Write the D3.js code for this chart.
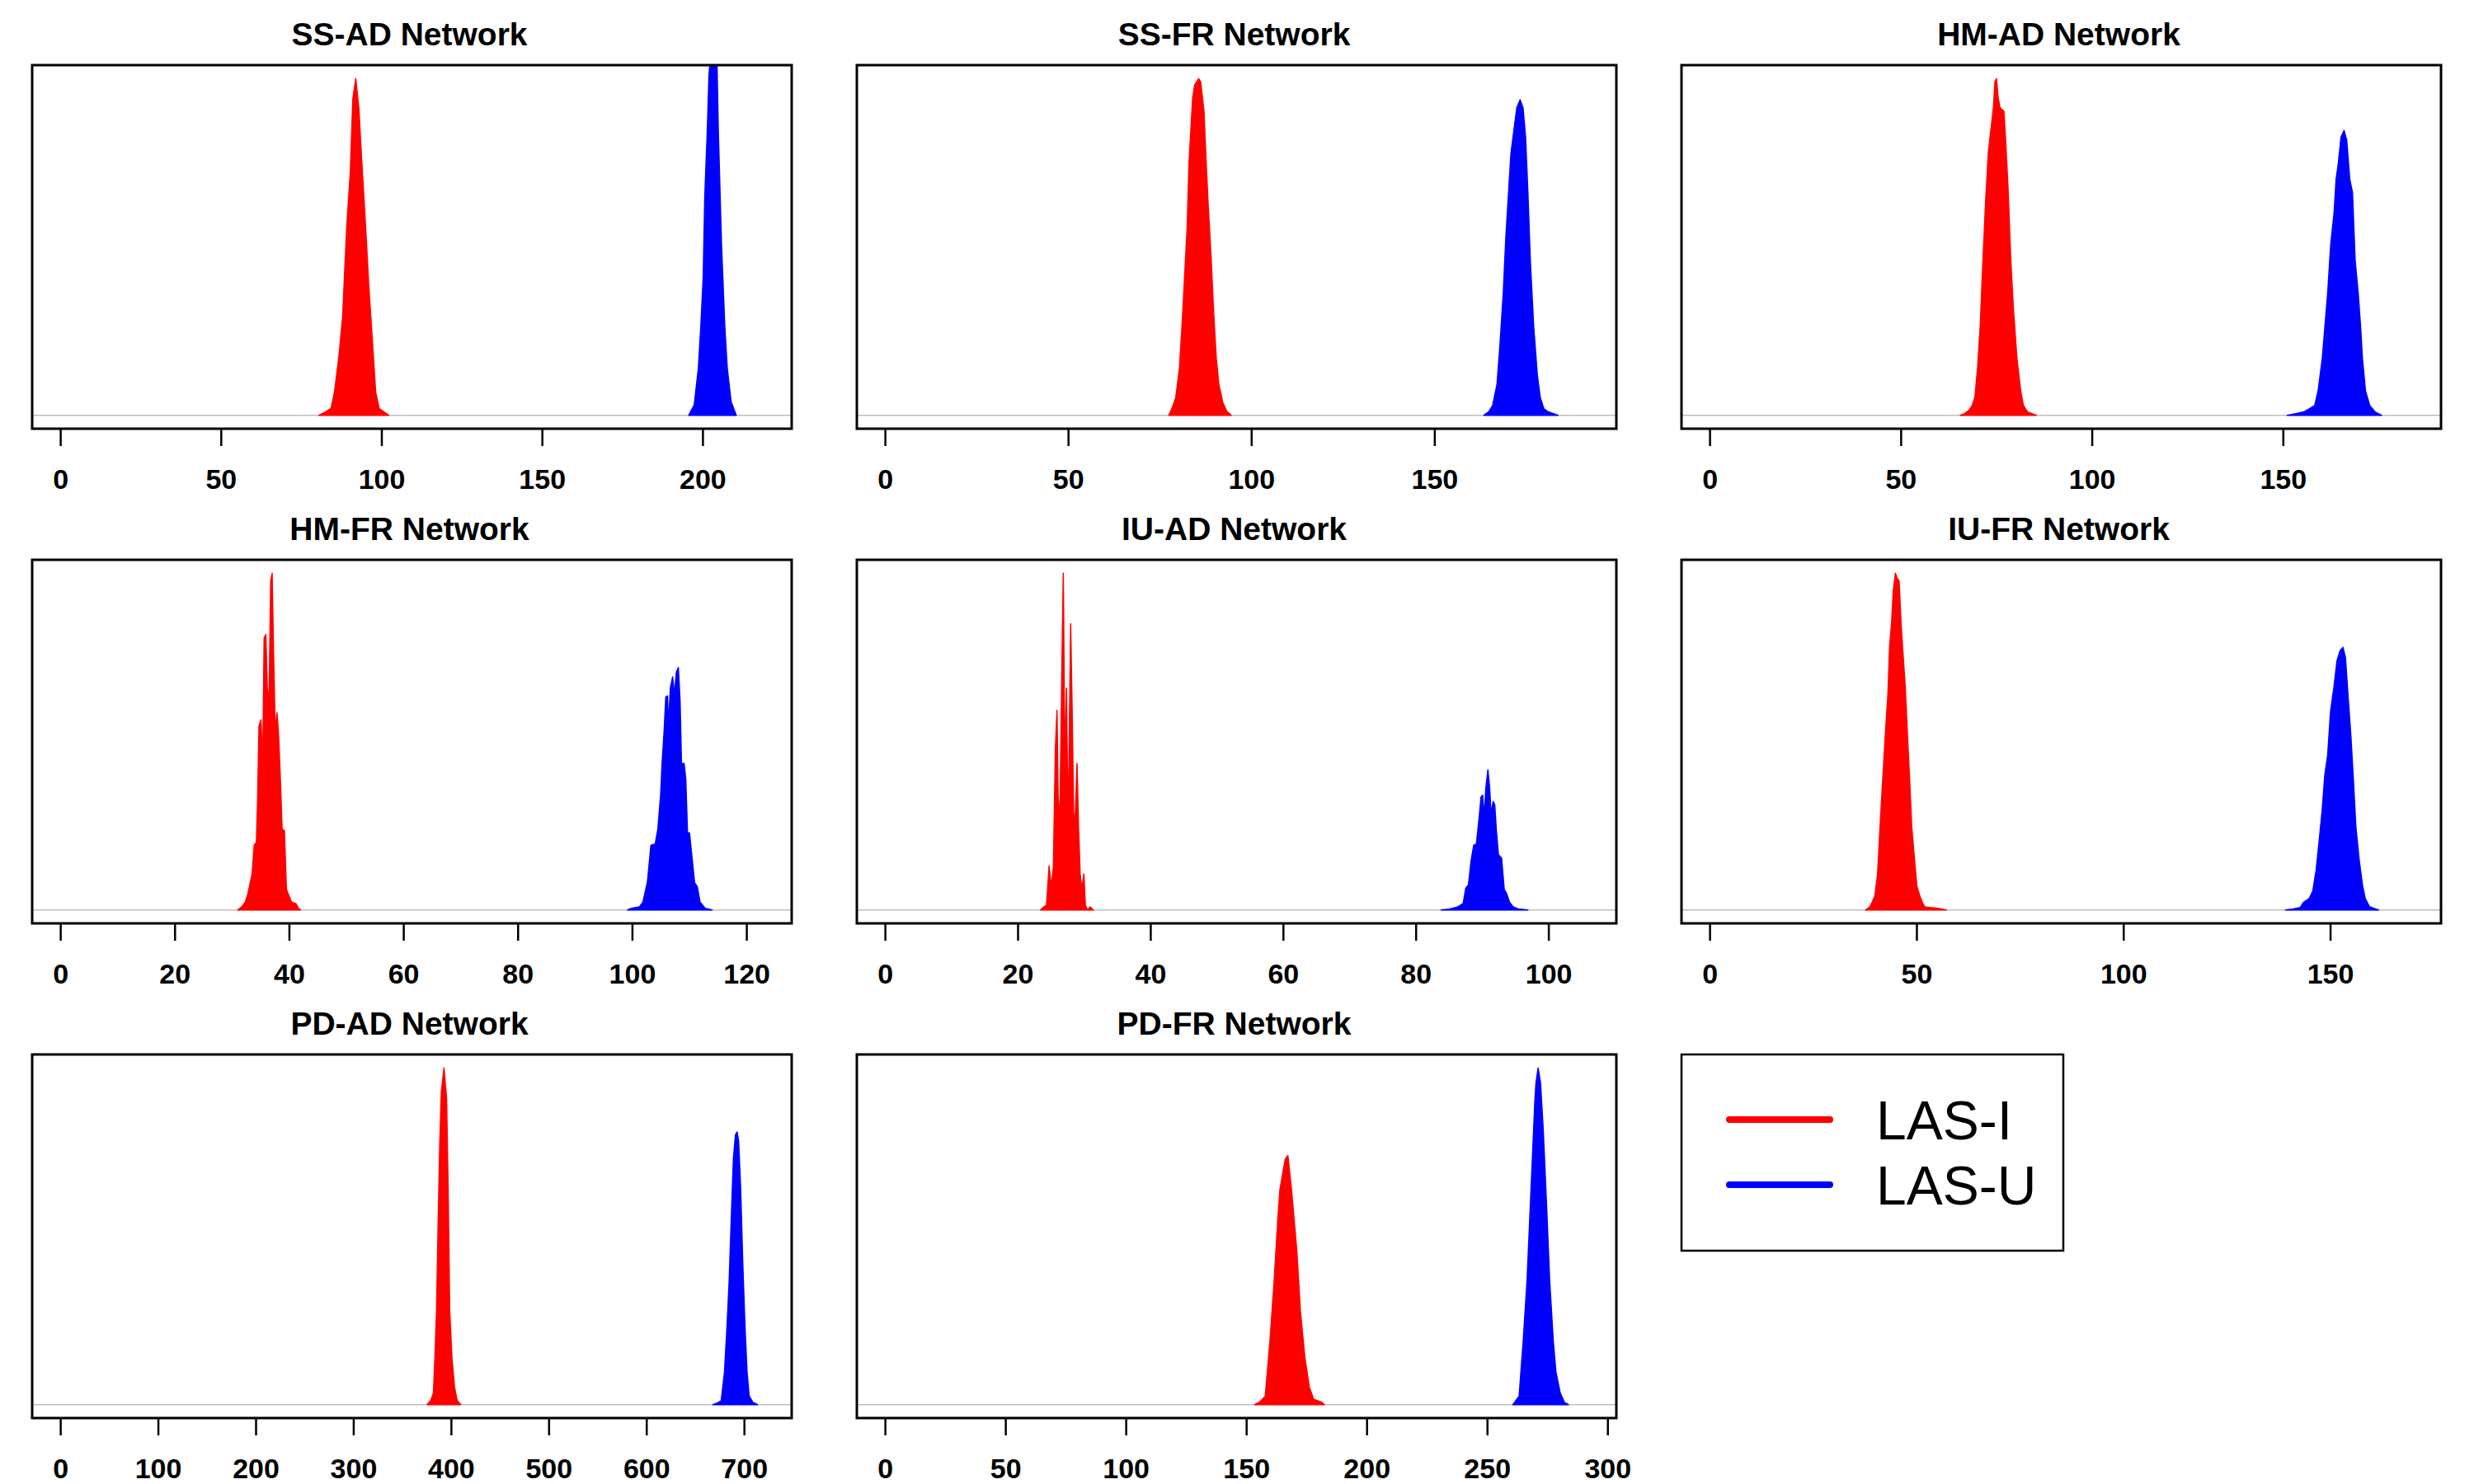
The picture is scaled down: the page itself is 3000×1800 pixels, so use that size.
<!DOCTYPE html>
<html>
<head>
<meta charset="utf-8">
<script src="https://cdn.jsdelivr.net/npm/d3@7"></script>
<style>
    body { margin: 0; background: #fff; }
    svg { display: block; }
</style>
</head>
<body>
<script>
// panel titles, x limits and tick labels
var panelTitles = ["SS-AD Network", "SS-FR Network", "HM-AD Network",
    "HM-FR Network", "IU-AD Network", "IU-FR Network",
    "PD-AD Network", "PD-FR Network"];
var xLimits = [[0, 219], [0, 192], [0, 184], [0, 123], [0, 106], [0, 170], [0, 720], [0, 292]];
var tickLabels = [
    [0, 50, 100, 150, 200],
    [0, 50, 100, 150],
    [0, 50, 100, 150],
    [0, 20, 40, 60, 80, 100, 120],
    [0, 20, 40, 60, 80, 100],
    [0, 50, 100, 150],
    [0, 100, 200, 300, 400, 500, 600, 700],
    [0, 50, 100, 150, 200, 250, 300]
];
var seriesNames = ["LAS-I", "LAS-U"];
var seriesColors = ["#ff0000", "#0000ff"];

// density curves, [x, relative density] (1 = top of the y range)
var ssadLasI = [[80.5,0],[82.6,0.01],[84.3,0.02],[85.4,0.07],[86.7,0.17],[87.9,0.29],[89.2,0.56],[90.3,0.72],[91.1,0.94],[92.0,1.0],[93.0,0.91],[93.6,0.80],[94.9,0.59],[96.1,0.38],[97.4,0.19],[98.2,0.07],[99.3,0.02],[102.3,0]];
var ssadLasU = [[195.7,0],[197.4,0.03],[198.7,0.14],[199.5,0.27],[200.2,0.41],[200.7,0.65],[201.5,0.85],[202.0,1.01],[202.8,1.1],[203.6,1.13],[204.4,1.1],[204.9,0.85],[205.9,0.51],[206.9,0.27],[207.7,0.14],[208.9,0.04],[210.5,0]];

var ssfrLasI = [[77.5,0],[78.5,0.024],[79.4,0.053],[80.4,0.14],[81.1,0.266],[81.8,0.411],[82.5,0.556],[83.0,0.749],[83.5,0.845],[84.0,0.942],[84.55,0.981],[85.1,0.99],[85.65,1.0],[86.2,0.99],[86.5,0.961],[87.1,0.903],[87.7,0.749],[88.3,0.614],[89.0,0.478],[89.7,0.314],[90.45,0.169],[91.15,0.092],[92.2,0.039],[93.3,0.012],[94.5,0]];
var ssfrLasU = [[163.5,0],[164.8,0.01],[165.9,0.029],[167.1,0.092],[167.9,0.208],[168.8,0.362],[169.5,0.527],[170.2,0.652],[170.9,0.778],[171.7,0.845],[172.5,0.913],[173.4,0.937],[174.2,0.913],[174.9,0.826],[175.5,0.671],[176.2,0.459],[177.1,0.266],[178.1,0.121],[178.9,0.053],[179.9,0.019],[181.1,0.01],[183.75,0]];

var hmadLasI = [[65.6,0],[66.7,0.005],[67.8,0.014],[68.7,0.029],[69.4,0.053],[70.1,0.14],[70.8,0.266],[71.5,0.459],[72.2,0.633],[72.9,0.778],[73.55,0.845],[74.25,0.913],[74.65,0.99],[75.05,1.0],[75.5,0.942],[76.0,0.913],[77.0,0.903],[77.4,0.826],[78.1,0.671],[78.8,0.459],[79.5,0.314],[80.4,0.169],[81.4,0.072],[82.1,0.029],[83.2,0.01],[85.5,0]];
var hmadLasU = [[151.1,0],[153.4,0.005],[155.5,0.01],[156.9,0.019],[158.3,0.029],[159.2,0.072],[160.3,0.169],[161.0,0.266],[161.7,0.362],[162.5,0.507],[163.4,0.604],[163.9,0.7],[164.5,0.749],[165.2,0.826],[166.0,0.846],[166.7,0.816],[167.5,0.7],[168.2,0.662],[168.9,0.459],[169.7,0.362],[170.3,0.266],[170.8,0.169],[171.6,0.072],[172.7,0.029],[174.1,0.01],[175.8,0]];

var hmfrLasI = [[31.06,0],[31.7,0.009],[32.35,0.023],[32.8,0.047],[33.55,0.107],[33.9,0.192],[34.3,0.201],[34.5,0.322],[34.75,0.546],[35.1,0.565],[35.4,0.434],[35.65,0.808],[35.95,0.818],[36.2,0.659],[36.5,0.621],[36.8,0.977],[37.05,1.0],[37.3,0.764],[37.6,0.53],[37.9,0.586],[38.15,0.53],[38.45,0.408],[38.8,0.24],[39.2,0.236],[39.55,0.061],[40.0,0.042],[40.45,0.023],[41.2,0.019],[41.65,0.005],[42.0,0]];
var hmfrLasU = [[99.2,0],[99.9,0.005],[101.3,0.009],[101.9,0.023],[102.7,0.084],[103.3,0.192],[104.05,0.196],[104.5,0.238],[105.0,0.341],[105.25,0.435],[105.6,0.528],[105.9,0.632],[106.2,0.636],[106.35,0.547],[106.7,0.659],[107.1,0.692],[107.4,0.64],[107.75,0.706],[108.1,0.72],[108.4,0.621],[108.65,0.435],[109.1,0.435],[109.4,0.388],[109.7,0.229],[110.05,0.229],[110.5,0.154],[110.95,0.08],[111.4,0.07],[111.9,0.023],[112.8,0.005],[114.0,0]];

var iuadLasI = [[23.47,0],[23.95,0.009],[24.35,0.014],[24.74,0.131],[25.06,0.07],[25.38,0.126],[25.69,0.481],[25.93,0.593],[26.17,0.248],[26.41,0.341],[26.65,0.696],[26.88,1.0],[27.12,0.435],[27.36,0.659],[27.6,0.248],[27.76,0.481],[27.99,0.85],[28.23,0.575],[28.47,0.248],[28.71,0.294],[28.95,0.435],[29.18,0.248],[29.42,0.107],[29.66,0.061],[29.98,0.107],[30.21,0.014],[30.53,0],[30.93,0.009],[31.4,0]];
var iuadLasU = [[83.82,0],[85.17,0.003],[86.36,0.009],[87.15,0.019],[87.55,0.065],[87.95,0.075],[88.34,0.145],[88.74,0.192],[89.14,0.196],[89.37,0.238],[89.61,0.285],[89.85,0.336],[90.09,0.341],[90.32,0.276],[90.56,0.36],[90.88,0.416],[91.12,0.369],[91.36,0.285],[91.67,0.322],[91.91,0.313],[92.15,0.238],[92.47,0.164],[92.94,0.154],[93.34,0.061],[93.73,0.047],[94.13,0.023],[94.69,0.009],[95.48,0.003],[96.9,0]];

var iufrLasI = [[37.7,0],[38.7,0.009],[39.3,0.023],[39.95,0.042],[40.6,0.107],[41.2,0.248],[41.85,0.388],[42.5,0.528],[43.1,0.64],[43.5,0.782],[44.0,0.855],[44.4,0.949],[44.9,1.0],[45.3,0.986],[45.8,0.977],[46.3,0.846],[46.8,0.752],[47.3,0.659],[47.8,0.528],[48.35,0.388],[48.85,0.248],[49.5,0.154],[50.1,0.07],[50.8,0.042],[51.4,0.023],[52.0,0.009],[53.3,0.007],[55.2,0.005],[57.25,0]];
var iufrLasU = [[139.2,0],[141.1,0.003],[142.75,0.007],[143.6,0.023],[144.9,0.033],[145.8,0.056],[146.6,0.117],[147.3,0.2],[148.1,0.3],[148.7,0.4],[149.4,0.46],[150.1,0.59],[150.9,0.66],[151.65,0.74],[152.4,0.77],[153.1,0.78],[153.7,0.75],[154.3,0.64],[155.0,0.52],[155.6,0.39],[156.2,0.25],[157.0,0.15],[157.8,0.075],[158.5,0.033],[159.55,0.009],[161.7,0]];

var pdadLasI = [[375.5,0],[379.3,0.012],[382.0,0.034],[383.6,0.143],[385.2,0.278],[386.9,0.549],[388.5,0.776],[390.1,0.928],[392.8,1.0],[395.5,0.91],[397.1,0.639],[398.7,0.278],[400.9,0.143],[403.6,0.052],[406.3,0.012],[410.0,0]];
var pdadLasU = [[668.1,0],[672.95,0.005],[676.7,0.012],[680.0,0.097],[682.6,0.233],[684.8,0.368],[686.9,0.549],[689.1,0.729],[691.2,0.801],[692.9,0.81],[694.5,0.783],[696.6,0.639],[698.8,0.413],[701.0,0.233],[703.1,0.097],[705.3,0.025],[709.1,0.007],[713.9,0]];

var pdfrLasI = [[153.5,0],[155.5,0.007],[157.9,0.025],[159.85,0.188],[161.6,0.368],[163.1,0.549],[164.0,0.639],[166.2,0.729],[167.3,0.74],[168.8,0.639],[169.9,0.549],[171.0,0.458],[172.5,0.278],[174.3,0.143],[176.2,0.052],[178.0,0.016],[181.3,0.007],[182.4,0]];
var pdfrLasU = [[260.7,0],[261.5,0.007],[263.3,0.025],[265.0,0.188],[266.6,0.368],[267.7,0.549],[268.8,0.729],[269.9,0.91],[270.3,0.955],[271.2,1.0],[272.2,0.955],[273.3,0.82],[274.7,0.594],[276.0,0.368],[277.5,0.188],[278.6,0.097],[280.4,0.034],[282.1,0.007],[283.8,0]];

var panelSeries = [
    [ssadLasI, ssadLasU], [ssfrLasI, ssfrLasU], [hmadLasI, hmadLasU],
    [hmfrLasI, hmfrLasU], [iuadLasI, iuadLasU], [iufrLasI, iufrLasU],
    [pdadLasI, pdadLasU], [pdfrLasI, pdfrLasU]
];

var cellW = 1000, cellH = 600,
    margin = {top: 79, right: 40, bottom: 80, left: 39},
    width = cellW - margin.left - margin.right,
    height = cellH - margin.top - margin.bottom;

var svg = d3.select("body").append("svg")
    .attr("width", 3000)
    .attr("height", 1800)
    .style("font-family", "'Liberation Sans', Arial, sans-serif");

panelTitles.forEach(function (title, i) {
    drawPanel(i, title);
});
drawLegend(2);

function drawPanel(i, title) {
    var col = i % 3, row = Math.floor(i / 3);
    var lim = xLimits[i];
    var pad = (lim[1] - lim[0]) * 0.04;   // R style 4% range extension

    var x = d3.scaleLinear().domain([lim[0] - pad, lim[1] + pad]).range([0, width]);
    var y = d3.scaleLinear().domain([-0.04, 1.04]).range([height, 0]);

    var g = svg.append("g")
        .attr("transform", "translate(" + (col * cellW + margin.left) + "," + (row * cellH + margin.top) + ")");

    g.append("clipPath")
        .attr("id", "clip" + i)
        .append("rect")
        .attr("width", width)
        .attr("height", height);

    // zero line
    g.append("line")
        .attr("x1", 0).attr("x2", width)
        .attr("y1", y(0)).attr("y2", y(0))
        .attr("stroke", "#bebebe")
        .attr("stroke-width", 1.5);

    var area = d3.area()
        .x(function (d) { return x(d[0]); })
        .y0(y(0))
        .y1(function (d) { return y(d[1]); });

    g.append("g")
        .attr("clip-path", "url(#clip" + i + ")")
        .selectAll("path")
        .data(panelSeries[i])
        .enter().append("path")
        .attr("d", area)
        .attr("fill", function (d, k) { return seriesColors[k]; })
        .attr("stroke", function (d, k) { return seriesColors[k]; })
        .attr("stroke-width", 1.5)
        .attr("stroke-linejoin", "round");

    g.append("rect")
        .attr("width", width)
        .attr("height", height)
        .attr("fill", "none")
        .attr("stroke", "#000")
        .attr("stroke-width", 3);

    var xAxis = d3.axisBottom(x)
        .tickValues(tickLabels[i])
        .tickSize(21)
        .tickPadding(28)
        .tickFormat(d3.format("d"));

    var ax = g.append("g")
        .attr("transform", "translate(0," + height + ")")
        .call(xAxis);
    ax.select(".domain").remove();
    ax.selectAll("line").attr("stroke", "#000").attr("stroke-width", 2.5);
    ax.selectAll("text")
        .attr("fill", "#000")
        .style("font-size", "34px")
        .style("font-weight", "bold")
        .style("font-family", "'Liberation Sans', Arial, sans-serif");

    g.append("text")
        .attr("x", width / 2 - 3)
        .attr("y", -24)
        .attr("text-anchor", "middle")
        .style("font-size", "39px")
        .style("font-weight", "bold")
        .text(title);
}

function drawLegend(col) {
    var lg = svg.append("g")
        .attr("transform", "translate(" + (col * cellW + margin.left) + "," + (2 * cellH + margin.top) + ")");

    lg.append("rect")
        .attr("width", 463)
        .attr("height", 238)
        .attr("fill", "#fff")
        .attr("stroke", "#000")
        .attr("stroke-width", 2.5);

    var item = lg.selectAll(".item")
        .data(seriesNames)
        .enter().append("g")
        .attr("class", "item")
        .attr("transform", function (d, k) { return "translate(0," + (79 + k * 79) + ")"; });

    item.append("line")
        .attr("x1", 58).attr("x2", 180)
        .attr("stroke", function (d, k) { return seriesColors[k]; })
        .attr("stroke-width", 8)
        .attr("stroke-linecap", "round");

    item.append("text")
        .attr("x", 236)
        .attr("y", 24)
        .style("font-size", "66px")
        .text(function (d) { return d; });
}
</script>
</body>
</html>
